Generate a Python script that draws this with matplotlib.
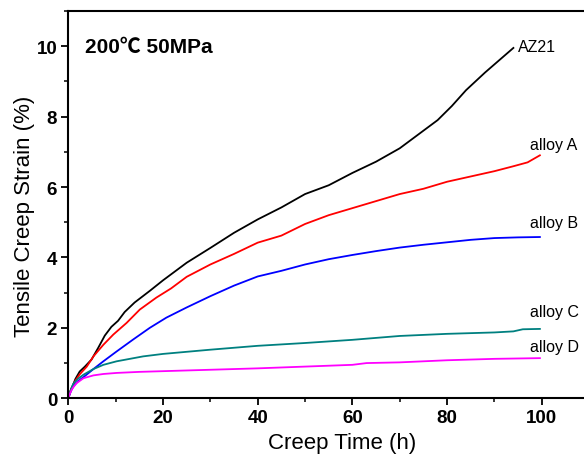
import matplotlib
matplotlib.use("Agg")
import matplotlib.pyplot as plt
from matplotlib.ticker import MultipleLocator

plt.rcParams['font.family'] = ['Liberation Sans', 'Noto Sans CJK SC', 'DejaVu Sans']

# creep curves (time in h, strain in %)
az21_t = [0, 0.3, 0.6, 1, 1.5, 2.4, 3.5, 4.9, 6.3, 7.7, 9.1, 10.5, 11.9, 14, 17.2, 20, 25, 30, 35, 40, 45, 50,
          55, 60, 65, 70, 74, 78, 81, 84, 88, 91, 94]
az21_s = [0, 0.15, 0.27, 0.38, 0.55, 0.76, 0.9, 1.1, 1.43, 1.78, 2.03, 2.2, 2.45, 2.72, 3.05, 3.35, 3.85, 4.27,
          4.7, 5.08, 5.42, 5.8, 6.05, 6.4, 6.72, 7.1, 7.5, 7.9, 8.3, 8.75, 9.25, 9.6, 9.95]

a_t = [0, 0.3, 0.6, 1, 1.5, 2.4, 3.9, 5.3, 7.4, 9.5, 12.3, 15.1, 18.6, 21.7, 25, 30, 35, 40, 45, 50, 55, 60,
       65, 70, 75, 80, 85, 90, 94, 97, 99.6]
a_s = [0, 0.14, 0.25, 0.35, 0.5, 0.68, 0.9, 1.19, 1.52, 1.81, 2.14, 2.52, 2.86, 3.12, 3.45, 3.8, 4.1, 4.42,
       4.62, 4.95, 5.2, 5.4, 5.6, 5.8, 5.95, 6.15, 6.3, 6.45, 6.59, 6.7, 6.9]

b_t = [0, 0.3, 0.6, 1, 2, 3.2, 5.3, 7.4, 10.2, 13.7, 17.2, 20.7, 25, 30, 35, 40, 45, 50, 55, 60, 65, 70, 75,
       80, 85, 90, 95, 99.6]
b_s = [0, 0.12, 0.22, 0.33, 0.48, 0.6, 0.83, 1.05, 1.33, 1.67, 2.0, 2.29, 2.58, 2.9, 3.2, 3.46, 3.62, 3.8,
       3.95, 4.07, 4.18, 4.28, 4.36, 4.43, 4.5, 4.55, 4.57, 4.58]

c_t = [0, 0.3, 0.6, 1, 2, 3.2, 5.3, 7.4, 10.2, 15.8, 20, 25, 30, 40, 50, 60, 70, 80, 90, 94, 96, 99.6]
c_s = [0, 0.14, 0.26, 0.4, 0.55, 0.67, 0.83, 0.95, 1.05, 1.19, 1.26, 1.32, 1.38, 1.49, 1.57, 1.66, 1.77, 1.83,
       1.87, 1.9, 1.96, 1.97]

d_t = [0, 0.3, 0.7, 1.2, 1.75, 3.2, 5.3, 7.4, 10.2, 15, 20, 30, 40, 50, 60, 63, 70, 80, 90, 99.6]
d_s = [0, 0.12, 0.24, 0.34, 0.43, 0.57, 0.65, 0.69, 0.72, 0.75, 0.77, 0.81, 0.85, 0.9, 0.95, 1.0, 1.02, 1.08,
       1.12, 1.14]

labels = ["AZ21", "alloy A", "alloy B", "alloy C", "alloy D"]
label_x = [95, 97.5, 97.5, 97.5, 97.5]
label_y = [10.0, 7.2, 5.0, 2.47, 1.48]

fig = plt.figure(figsize=(5.84, 4.60), dpi=100)
# the original figure is cropped on the right, so the axes run past the edge
ax = fig.add_axes([0.117, 0.132, 0.908, 0.842])

series = [(az21_t, az21_s, 'black'), (a_t, a_s, '#ff0000'), (b_t, b_s, '#0000ff'),
          (c_t, c_s, '#008080'), (d_t, d_s, '#ff00ff')]
for t, s, col in series:
    ax.plot(t, s, color=col, lw=1.3)

for name, x, y in zip(labels, label_x, label_y):
    ax.text(x, y, name, fontsize=11.5, ha='left', va='center')

ax.text(3.5, 10.0, "200℃ 50MPa", fontsize=15, fontweight='bold', ha='left', va='center')

ax.set_xlim(0, 112)
ax.set_ylim(0, 11)
ax.xaxis.set_major_locator(MultipleLocator(20))
ax.xaxis.set_minor_locator(MultipleLocator(10))
ax.yaxis.set_major_locator(MultipleLocator(2))
ax.yaxis.set_minor_locator(MultipleLocator(1))
ax.tick_params(which='major', direction='out', length=5, width=1.3, labelsize=13.5, pad=3)
ax.tick_params(which='minor', direction='out', length=3, width=1.1)
for lab in ax.get_xticklabels() + ax.get_yticklabels():
    lab.set_fontweight('bold')
for sp in ax.spines.values():
    sp.set_linewidth(1.5)

ax.set_xlabel("Creep Time (h)", fontsize=16, labelpad=4)
ax.set_ylabel("Tensile Creep Strain (%)", fontsize=16, labelpad=1)
# labels are centred on the uncropped axes in the original
ax.xaxis.label.set_x(0.516)
ax.yaxis.label.set_y(0.471)

fig.savefig("out.png", dpi=100)
